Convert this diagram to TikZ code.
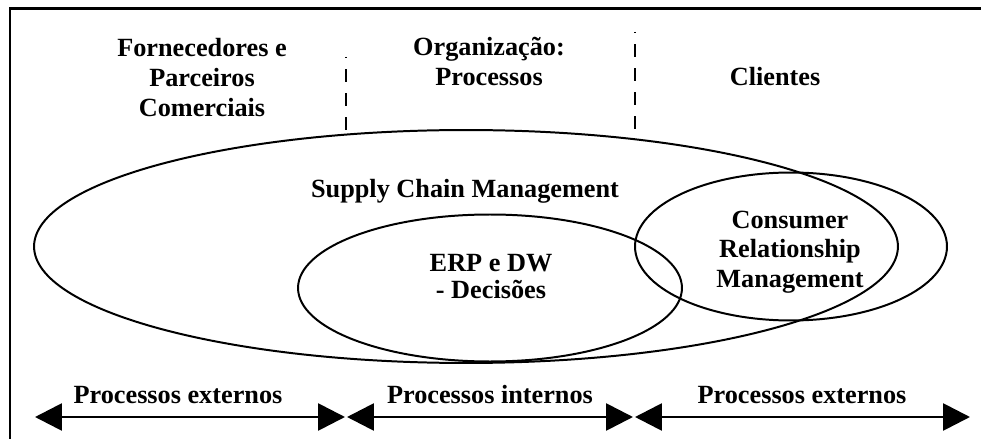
\documentclass[tikz,border=0pt]{standalone}
\usepackage{fontspec}
\setmainfont{Liberation Serif}
\usetikzlibrary{arrows.meta}

\tikzset{
  lbl/.style={font=\fontsize{19.8}{#1}\selectfont\bfseries, align=center, inner sep=0pt, anchor=base},
  lbl/.default=23,
  ring/.style={draw, line width=1.5pt},
  divider/.style={line width=2.2pt, dash pattern=on 9.8pt off 8.3pt, dash phase=9pt},
  span/.style={{Triangle[length=20.3pt,width=20.3pt]}-{Triangle[length=20.3pt,width=20.3pt]}, line width=2.1pt}
}

\begin{document}
\begin{tikzpicture}[x=0.0265cm, y=-0.0265cm]
\useasboundingbox (0,0) rectangle (981,439);

% outer frame, only top and left edges fall inside the page
\draw[line width=1.9pt] (10,450) -- (10,8.5) -- (995,8.5);

% column headers (base = last line)
\node[lbl] (forn) at (202,117) {Fornecedores e\\Parceiros\\Comerciais};
\node[lbl] (org) at (489,86) {Organização:\\Processos};
\node[lbl] (cli) at (775,86) {Clientes};

% dashed dividers between the columns
\coordinate (d1top) at (346,57);
\coordinate (d1bot) at (346,130);
\coordinate (d2top) at (635,32);
\coordinate (d2bot) at (635,130);
\draw[divider] (d1top) -- (d1bot);
\draw[divider] (d2top) -- (d2bot);

% the three ellipses
\draw[ring] (466,246.5) ellipse [x radius=11.448cm, y radius=3.087cm];
\draw[ring] (490,288) ellipse [x radius=5.088cm, y radius=1.948cm];
\draw[ring] (791,246.5) ellipse [x radius=4.134cm, y radius=1.961cm];

\node[lbl] (scm) at (465,198) {Supply Chain Management};
\node[lbl=21] (erp) at (491,299) {ERP e DW\\- Decisões};
\node[lbl=22.2] (crm) at (790,287) {Consumer\\Relationship\\Management};

% process spans along the bottom
\coordinate (a0) at (35,417);
\coordinate (a1) at (345,417);
\coordinate (b0) at (347,417);
\coordinate (b1) at (633,417);
\coordinate (c0) at (635,417);
\coordinate (c1) at (970,417);
\draw[span] (a0) -- (a1);
\draw[span] (b0) -- (b1);
\draw[span] (c0) -- (c1);

\node[lbl] (extl) at (178,403) {Processos externos};
\node[lbl] (int) at (490,403) {Processos internos};
\node[lbl] (extr) at (802,403) {Processos externos};
\end{tikzpicture}
\end{document}
